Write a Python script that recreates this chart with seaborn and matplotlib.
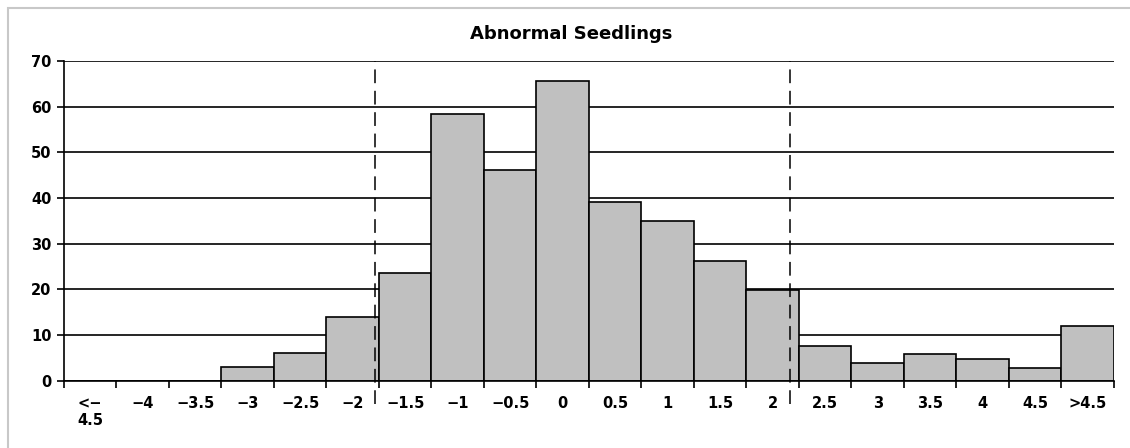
import numpy as np
import pandas as pd
import matplotlib
matplotlib.use("Agg")
import matplotlib.pyplot as plt
import seaborn as sns
from matplotlib.patches import Rectangle

sns.set_theme(style="white")
plt.rcParams['font.family'] = ['DejaVu Sans']

# bins and counts
bin_labels = ["<\u2212\n4.5", "\u22124", "\u22123.5", "\u22123", "\u22122.5", "\u22122",
              "\u22121.5", "\u22121", "\u22120.5", "0", "0.5", "1", "1.5", "2",
              "2.5", "3", "3.5", "4", "4.5", ">4.5"]
counts = [0, 0, 0, 3, 6, 14, 23.7, 58.3, 46.1, 65.5, 39.2, 35, 26.3, 19.9,
          7.6, 4, 5.9, 4.7, 2.9, 12]
# dashed limit lines (position in bin index units)
limit_positions = [5.42, 13.33]
y_ticks = [0, 10, 20, 30, 40, 50, 60, 70]

df = pd.DataFrame({"bin": bin_labels, "count": counts})

fig = plt.figure(figsize=(11.3, 4.48), dpi=100)
ax = fig.add_axes([0.0566, 0.150, 0.9292, 0.714])

sns.barplot(data=df, x="bin", y="count", order=bin_labels, color="#C0C0C0",
            edgecolor="black", linewidth=1.2, width=1.0, saturation=1, ax=ax, zorder=2)

ax.set_xlim(-0.5, len(bin_labels) - 0.5)
ax.set_ylim(0, 70)
ax.set_yticks(y_ticks)
ax.set_axisbelow(True)
ax.yaxis.grid(True, color="black", linewidth=1.2)
ax.xaxis.grid(False)

for sp in ["top", "right"]:
    ax.spines[sp].set_visible(False)
for sp in ["left", "bottom"]:
    ax.spines[sp].set_color("black")
    ax.spines[sp].set_linewidth(1.2)
ax.spines["bottom"].set_zorder(3)

# ticks: labels at bin centres, marks at bin edges
ax.tick_params(axis="x", which="major", length=0, pad=11)
ax.set_xticks(np.arange(len(bin_labels) + 1) - 0.5, minor=True)
ax.tick_params(axis="x", which="minor", direction="out", length=5, width=1.2, color="black", bottom=True)
ax.tick_params(axis="y", direction="out", length=5, width=1.2, color="black", left=True, pad=4)
for lab in ax.get_xticklabels() + ax.get_yticklabels():
    lab.set_fontweight("bold")
    lab.set_fontsize(10.5)
    lab.set_color("black")
for lab in ax.get_xticklabels():
    lab.set_verticalalignment("top")
    lab.set_linespacing(1.2)

ax.vlines(limit_positions, -5, 70, colors="black", linestyles=(0, (9, 5)),
          linewidth=1.1, clip_on=False, zorder=4)

ax.set_xlabel("")
ax.set_ylabel("")
ax.set_title("Abnormal Seedlings", fontsize=13, fontweight="bold", color="black",
             x=0.483, pad=16)

# light frame around the chart area
fig.patches.append(Rectangle((8 / 1130, -0.1), 1.2, 1 - 8 / 448 + 0.1, transform=fig.transFigure,
                             fill=False, edgecolor="#C8C8C8", linewidth=1.5))

fig.savefig("out.png", dpi=100)
